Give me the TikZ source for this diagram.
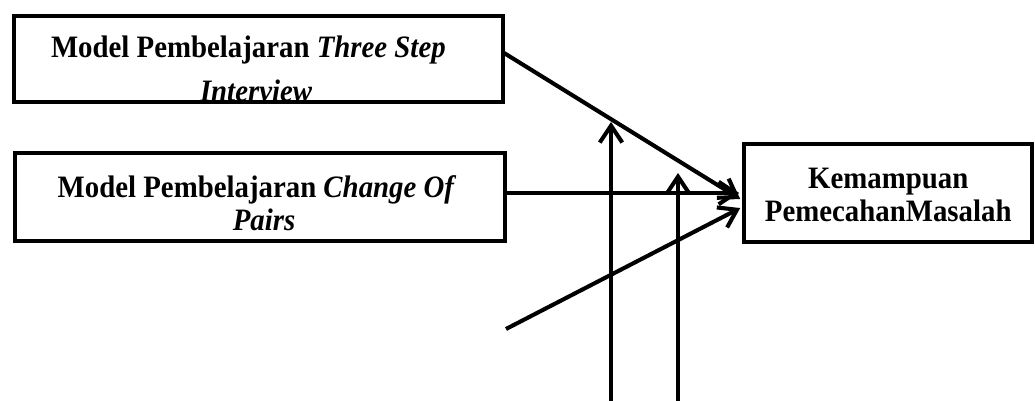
\documentclass[tikz,border=0pt]{standalone}
\usepackage{graphicx}
\usepackage{fontspec}
\setmainfont{Liberation Serif}
\usetikzlibrary{arrows.meta, positioning, calc}

\newcommand{\vstretch}[1]{\scalebox{1}[1.08]{#1}}

\begin{document}
\begin{tikzpicture}[x=0.025cm, y=-0.025cm,
  varbox/.style={draw, line width=2.8pt, inner sep=0pt, outer sep=0pt},
  boxtext/.style={align=center, inner sep=0pt, font=\fontsize{20.5pt}{23.5pt}\selectfont\bfseries},
  arrow/.style={-{Straight Barb[length=12pt, width=16pt]}, line width=2.9pt}
]
\useasboundingbox (0,0) rectangle (1035,401);
\node[varbox, minimum width=12.225cm, minimum height=2.15cm] (tsi) at (258.5,59) {};
\node[varbox, minimum width=12.25cm, minimum height=2.2cm, below=1.275cm of tsi, xshift=0.04cm] (cop) {};
\node[varbox, minimum width=7.2cm, minimum height=2.45cm, right=5.975cm of cop, yshift=0.1cm] (kpm) {};

% teks di dalam kotak
\begin{scope}
  \clip (tsi.south west) rectangle (tsi.north east);
  \node[boxtext, xshift=-0.06cm, yshift=-0.234cm] (tsi-text) at (tsi.center)
    {\vstretch{Model Pembelajaran \textit{Three Step}}\hspace*{11pt}\\[7.8pt]\vstretch{\textit{Interview}}};
\end{scope}
\node[boxtext, xshift=0.1cm, yshift=-0.146cm] (cop-text) at (cop.center)
  {\vstretch{Model Pembelajaran \textit{Change Of}}\hspace*{10pt}\\\vstretch{\textit{Pairs}}};
\node[boxtext, yshift=-0.05cm] (kpm-text) at (kpm.center) {\vstretch{Kemampuan}\\\vstretch{PemecahanMasalah}};

\coordinate (tsi-out) at ($(tsi.east)+(1,-6)$);
\coordinate (kpm-in1) at ($(kpm.west)+(-4,6)$);
\coordinate (kpm-in2) at ($(kpm.west)+(-5,0)$);
\coordinate (kpm-in3) at ($(kpm.west)+(-4,15)$);
\coordinate (cop-out) at (cop.east |- kpm-in2);
\coordinate (free3) at (506,329);
\coordinate (mod1-start) at (611,401);
\coordinate (mod1-end) at (611,122);
\coordinate (mod2-start) at (678,401);
\coordinate (mod2-end) at (678,173);

\draw[arrow] (tsi-out) -- (kpm-in1);
\draw[arrow] (cop-out) -- (kpm-in2);
\draw[arrow] (free3) -- (kpm-in3);
\draw[arrow] (mod1-start) -- (mod1-end);
\draw[arrow] (mod2-start) -- (mod2-end);
\end{tikzpicture}
\end{document}
